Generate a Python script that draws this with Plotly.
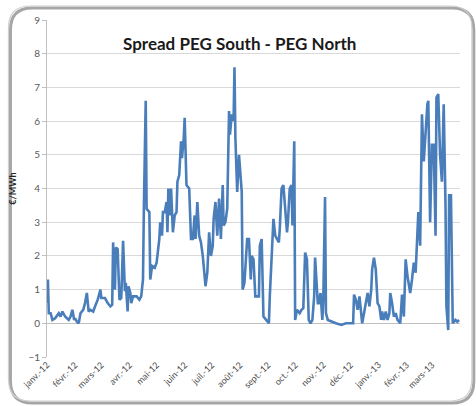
import pandas as pd
import plotly.graph_objects as go

# spread values, day offsets from 1 Jan 2012
days = [0, 1, 2, 4, 6, 9, 13, 15, 17, 20, 24, 26, 28, 30, 31, 33, 35, 37, 40, 42, 44, 46, 48, 51, 53, 56, 59, 60, 64, 67, 70, 72,
        73, 75, 76, 78, 80, 82, 84, 86, 87, 89, 90, 92, 93, 95, 99, 102, 104, 106, 107, 109, 110, 113, 114, 116, 119, 121,
        124, 125, 127, 128, 130, 132, 133, 134, 136, 137, 139, 141, 143, 144, 146, 148, 149, 151, 152, 154, 157, 159, 161, 163,
        164, 166, 168, 170, 172, 174, 175, 177, 179, 181, 183, 184, 186, 188, 190, 192, 194, 195, 197, 199,
        201, 202, 204, 206, 207, 208, 210, 212, 215, 216, 218, 221, 223, 225, 226, 228, 230, 234, 235, 237, 239, 242, 245, 246,
        250, 252, 254, 256, 257, 259, 261, 263, 265, 266, 268, 270, 271, 273,
        274, 276, 279, 281, 283, 285, 287, 289, 291, 293, 295, 296, 299, 300, 302, 304, 305, 307, 308, 310, 314, 319, 325, 330, 338,
        339, 341, 343, 345, 347, 348, 350, 352, 354, 356, 358, 359, 361, 363, 365, 367, 369, 370, 372, 374, 376, 378, 379, 381,
        383, 385, 387, 390, 392, 394, 396, 398, 399, 401, 403, 405, 407, 409, 410,
        412, 414, 416, 418, 420, 421, 423, 425, 427, 429, 430, 432, 434, 436, 438, 440, 441, 443, 444, 446, 448, 451, 453, 455]
spread = [0.6, 1.3, 0.3, 0.3, 0.1, 0.15, 0.3, 0.2, 0.35, 0.2, 0.1, 0.2, 0.4, 0.1, 0.15, 0.05, 0.0, 0.3, 0.4, 0.6, 0.9, 0.35, 0.4, 0.35, 0.5, 0.7, 1.0, 0.75, 0.75, 0.6, 0.5, 0.55,
          2.4, 1.0, 2.25, 2.2, 0.7, 0.75, 2.45, 0.95, 1.2, 0.35, 1.1, 0.9, 0.6, 0.8, 0.8, 0.7, 0.8, 1.3, 3.5, 6.6, 3.4, 3.3, 1.3, 1.7, 1.65, 1.8,
          2.5, 3.0, 2.6, 3.3, 3.3, 3.6, 2.7, 4.0, 3.2, 4.0, 2.7, 3.2, 3.3, 4.2, 4.4, 5.4, 4.9, 5.5, 6.1, 4.1, 4.0, 2.5, 2.5, 3.2,
          2.5, 3.6, 2.6, 2.4, 2.0, 1.2, 1.1, 1.5, 2.7, 2.0, 2.3, 3.1, 3.6, 2.6, 3.7, 2.5, 4.1, 2.9, 3.0, 3.4,
          6.3, 5.6, 6.2, 6.0, 7.6, 5.5, 3.9, 5.0, 3.9, 1.0, 1.2, 2.5, 2.5, 1.3, 2.0, 1.9, 0.8, 0.8, 2.3, 2.5, 0.2, 0.1, 0.0, 0.8,
          3.1, 2.6, 2.5, 2.4, 2.8, 4.0, 4.1, 3.3, 2.7, 3.0, 4.0, 4.1, 2.9, 5.4,
          0.1, 0.4, 0.3, 0.4, 0.45, 2.1, 1.9, 0.1, 0.0, 0.1, 0.8, 1.95, 0.6, 0.6, 0.9, 0.1, 0.65, 3.75, 0.3, 0.1, 0.05, 0.0, -0.05, 0.0, 0.0,
          0.85, 0.7, 0.4, 0.8, 0.1, 0.0, 0.3, 0.6, 0.9, 0.5, 1.0, 1.6, 1.95, 1.6, 0.6, 0.5, 0.1, 0.35, 0.1, 0.35, 0.1, 0.3, 0.9, 0.6,
          0.2, 0.3, 0.1, 0.0, 0.85, 0.2, 1.9, 1.4, 1.2, 0.9, 1.3, 1.8, 1.5, 2.5, 3.3,
          2.3, 6.2, 4.8, 5.8, 6.5, 6.6, 3.0, 5.3, 5.3, 2.6, 6.7, 6.8, 5.0, 4.2, 6.5, 3.5, 0.5, -0.2, 3.8, 3.8, 0.0, 0.1, 0.05, 0.1]

month_ticks = ['2012-01-01', '2012-02-01', '2012-03-01', '2012-04-01', '2012-05-01', '2012-06-01', '2012-07-01', '2012-08-01',
               '2012-09-01', '2012-10-01', '2012-11-01', '2012-12-01', '2013-01-01', '2013-02-01', '2013-03-01']
month_labels = ['janv.-12', 'févr.-12', 'mars-12', 'avr.-12', 'mai-12', 'juin-12', 'juil.-12', 'août-12',
                'sept.-12', 'oct.-12', 'nov.-12', 'déc.-12', 'janv.-13', 'févr.-13', 'mars-13']

dates = pd.to_datetime('2012-01-01') + pd.to_timedelta(days, unit='D')

# plot area in pixels
L, R, T, B = 42, 460, 20, 357
W, H = 476, 406


def px(x):
    return (x - L) / (R - L)


def py(y):
    return (B - y) / (B - T)


def frame_path(x0, y0, x1, y1, r):
    pts = [('M', x0 + r, y0), ('L', x1 - r, y0), ('Q', x1, y0, x1, y0 + r), ('L', x1, y1 - r),
           ('Q', x1, y1, x1 - r, y1), ('L', x0 + r, y1), ('Q', x0, y1, x0, y1 - r), ('L', x0, y0 + r),
           ('Q', x0, y0, x0 + r, y0)]
    s = ''
    for p in pts:
        if p[0] == 'Q':
            s += 'Q%.4f,%.4f %.4f,%.4f ' % (px(p[1]), py(p[2]), px(p[3]), py(p[4]))
        else:
            s += '%s%.4f,%.4f ' % (p[0], px(p[1]), py(p[2]))
    return s + 'Z'


fig = go.Figure()
fig.add_trace(go.Scatter(x=dates, y=spread, mode='lines',
                         line=dict(color='#4a7ebb', width=2.6), showlegend=False))

# rounded frame with a soft shadow
fig.add_shape(type='path', xref='paper', yref='paper', path=frame_path(5, 8, 474, 403, 22),
              line=dict(color='#a6a6a6', width=3), layer='below')
fig.add_shape(type='path', xref='paper', yref='paper', path=frame_path(3, 6, 472, 401, 22),
              line=dict(color='#d0d0d0', width=1.2), layer='below')

fig.add_annotation(text='<b>Spread PEG South - PEG North</b>', xref='paper', yref='paper',
                   x=px(237), y=py(31), showarrow=False,
                   font=dict(family='Lato', size=17, color='#1a1a1a'))

fig.update_layout(
    width=W, height=H,
    margin=dict(l=L, r=W - R, t=T, b=H - B),
    paper_bgcolor='white', plot_bgcolor='rgba(0,0,0,0)',
    font=dict(family='Lato', color='#595959'),
    xaxis=dict(type='date', range=['2012-01-01', '2013-04-01'], tickvals=month_ticks, ticktext=month_labels,
               tickangle=-45, tickfont=dict(size=9, color='#4d4d4d'), showgrid=False, zeroline=False,
               showline=False, ticks=''),
    yaxis=dict(range=[-1, 9], dtick=1, tickfont=dict(size=10), gridcolor='#d9d9d9', gridwidth=1,
               showline=True, linecolor='#bfbfbf', ticks='outside', ticklen=4, tickcolor='#bfbfbf',
               zeroline=True, zerolinecolor='#bfbfbf', zerolinewidth=1,
               title=dict(text='<b>€/MWh</b>', font=dict(size=9, color='#262626'), standoff=10)),
)

fig.write_html('out.html', config={'displayModeBar': False},
               post_script="document.body.style.margin='0';")
